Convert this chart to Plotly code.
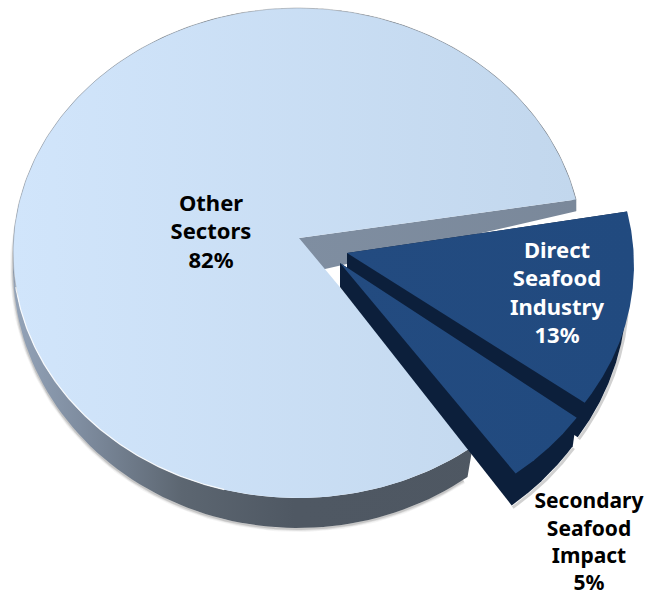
import numpy as np
import plotly.graph_objects as go

# Shares of the seafood economic impact, in percent
labels = ["Other<br>Sectors", "Direct<br>Seafood<br>Industry", "Secondary<br>Seafood<br>Impact"]
shares = [82, 13, 5]

# Pie geometry on a pixel-sized axis: tilted top disc and a lower disc for the rim
TOP = dict(cx=298, cy=253, rx=285, ry=245)
BASE = dict(cx=298, cy=268, rx=285, ry=260)
START_DEG = 12.6
RIM_SKEW_DEG = 1.3

MAIN_APEX, MAIN_APEX_BASE = (299, 238), (299, 275)
DIRECT_SHIFT, DIRECT_BASE_SHIFT = (51, 12), (44, 23)
DIRECT_APEX, DIRECT_APEX_BASE = (347, 253), (347, 286)
SECOND_SHIFT, SECOND_BASE_SHIFT = (43, 27), (39, 32)
SECOND_APEX, SECOND_APEX_BASE = (340, 263), (340, 287)

LABEL_POS = [(211, 234), (557, 295), (589, 544)]
LABEL_COL = ["#000000", "#ffffff", "#000000"]
LABEL_SIZE = [22, 22, 21]

RIM_SCALE = [[0, "#93a3b8"], [0.12, "#7f8da0"], [0.3, "#5c6671"], [0.5, "#4f5863"], [1, "#4e5762"]]


def arc(disc, a0, a1, shift=(0, 0), n=160):
    t = np.radians(np.linspace(a0, a1, n))
    x = disc["cx"] + disc["rx"] * np.cos(t) + shift[0]
    y = disc["cy"] - disc["ry"] * np.sin(t) + shift[1]
    return list(x), list(y)


def poly(x, y, scale):
    return go.Scatter(
        x=x + x[:1], y=y + y[:1], mode="lines", fill="toself",
        fillgradient=dict(type="horizontal", colorscale=scale),
        line=dict(width=0), hoverinfo="skip", showlegend=False,
    )


def flat(color_a, color_b):
    return [[0, color_a], [1, color_b]]


def stroke(x, y, color, width):
    return go.Scatter(x=x, y=y, mode="lines", line=dict(color=color, width=width),
                      hoverinfo="skip", showlegend=False)


# Slice boundaries, clockwise from the starting angle
a_direct_end = START_DEG - shares[1] * 3.6
a_second_end = a_direct_end - shares[2] * 3.6
a_main_end = a_second_end - shares[0] * 3.6

fig = go.Figure()

# Soft shadow below the rim
bx, by = arc(BASE, a_second_end - RIM_SKEW_DEG - 1, -190)
for w, alpha in [(6, 0.06), (4, 0.10), (2, 0.18)]:
    fig.add_trace(stroke(bx, [v + 1 for v in by], f"rgba(70,70,70,{alpha})", w))

# Outer rim of the large slice
tx, ty = arc(TOP, a_second_end, a_main_end)
bx, by = arc(BASE, a_second_end - RIM_SKEW_DEG, a_main_end)
fig.add_trace(poly(bx + tx[::-1], by + ty[::-1], RIM_SCALE))

# Cut face of the large slice
tx, ty = arc(TOP, START_DEG, START_DEG, n=1)
bx, by = arc(BASE, START_DEG, START_DEG, n=1)
fig.add_trace(poly([MAIN_APEX[0], tx[0], bx[0], MAIN_APEX_BASE[0]],
                   [MAIN_APEX[1], ty[0], by[0], MAIN_APEX_BASE[1]], flat("#7f8ea1", "#7a889a")))

# Top face of the large slice
tx, ty = arc(TOP, a_second_end, a_main_end, n=400)
fig.add_trace(poly([MAIN_APEX[0]] + tx, [MAIN_APEX[1]] + ty, flat("#d1e5fb", "#c2d7ed")))

# Fine grey edge on the far side, light rim highlight on the near side
ex, ey = arc(TOP, START_DEG, 190)
fig.add_trace(stroke(ex, ey, "rgba(110,110,110,0.35)", 1))
hx, hy = arc(TOP, -105, -172)
fig.add_trace(stroke(hx, hy, "rgba(255,255,255,0.85)", 1.2))

# Exploded slices: each one gets a rim and a top face
for (a0, a1, shift, base_shift, apex, apex_base) in [
    (START_DEG, a_direct_end, DIRECT_SHIFT, DIRECT_BASE_SHIFT, DIRECT_APEX, DIRECT_APEX_BASE),
    (a_direct_end, a_second_end, SECOND_SHIFT, SECOND_BASE_SHIFT, SECOND_APEX, SECOND_APEX_BASE),
]:
    tx, ty = arc(TOP, a0, a1, shift)
    bx, by = arc(BASE, a0, a1, base_shift)
    sx, sy = arc(BASE, a0, a1, (base_shift[0] + 1, base_shift[1] + 2))
    fig.add_trace(stroke(sx, sy, "rgba(70,70,70,0.25)", 3))
    fig.add_trace(poly([apex[0], apex_base[0]] + bx[::-1] + [tx[0]],
                       [apex[1], apex_base[1]] + by[::-1] + [ty[0]], flat("#0c1f3b", "#0c1f3b")))
    fig.add_trace(poly([apex[0]] + tx, [apex[1]] + ty, flat("#234b80", "#214a7f")))

# Slice labels
fig.add_trace(go.Scatter(
    x=[p[0] for p in LABEL_POS], y=[p[1] for p in LABEL_POS], mode="text",
    text=[f"{name}<br>{value}%" for name, value in zip(labels, shares)],
    textposition="middle center",
    textfont=dict(family="Noto Sans", size=LABEL_SIZE, color=LABEL_COL, weight="bold"),
    hoverinfo="skip", showlegend=False,
))

fig.update_layout(
    width=648, height=599, margin=dict(l=0, r=0, t=0, b=0),
    paper_bgcolor="white", plot_bgcolor="white", showlegend=False,
    xaxis=dict(range=[0, 648], visible=False, fixedrange=True),
    yaxis=dict(range=[599, 0], visible=False, fixedrange=True),
)

fig.write_html("out.html", config={"displayModeBar": False})
